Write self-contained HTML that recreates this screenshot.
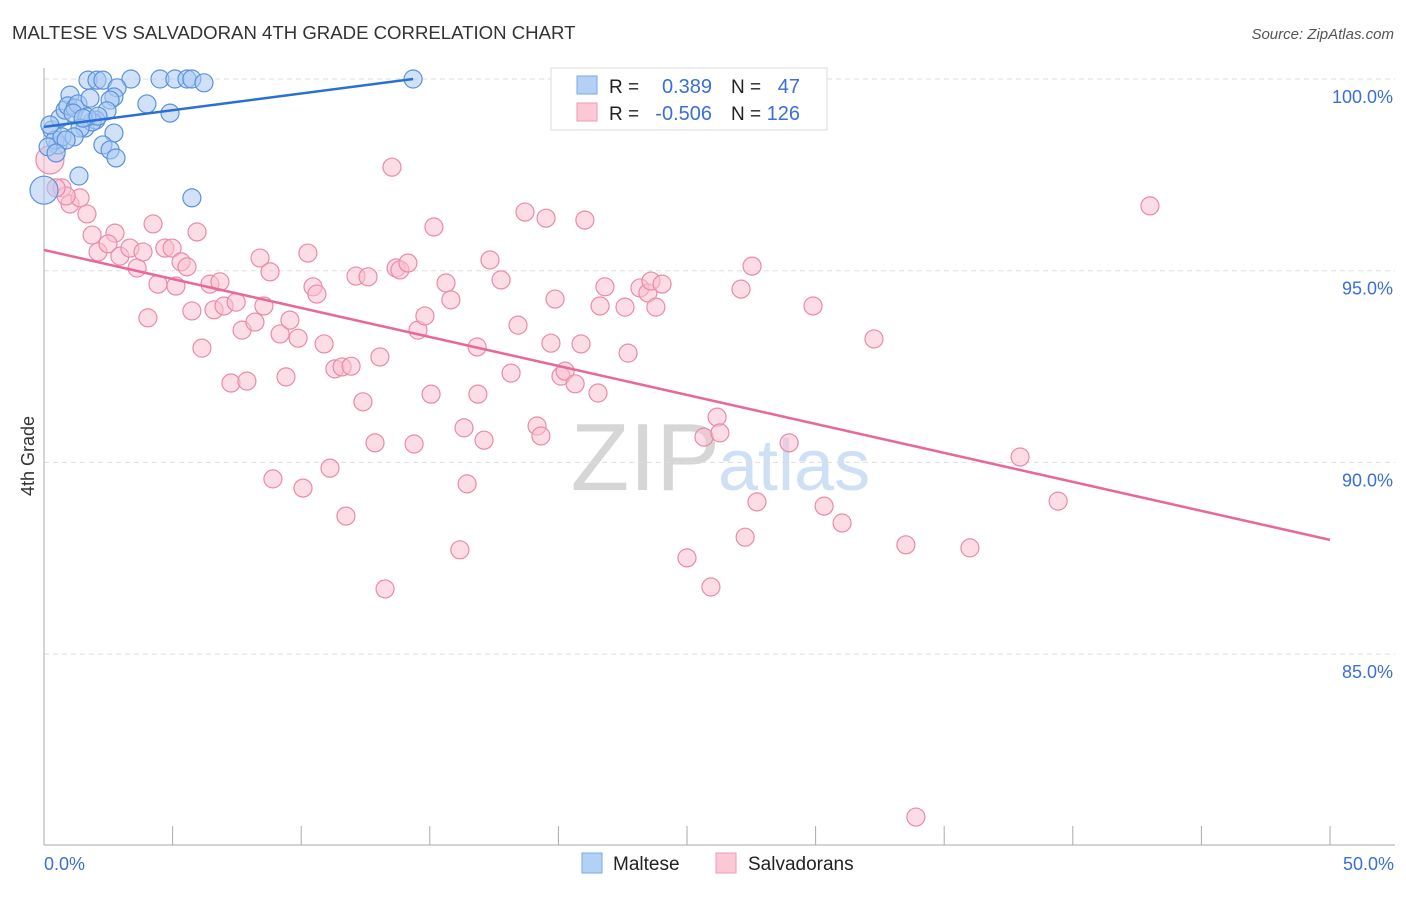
<!DOCTYPE html>
<html><head><meta charset="utf-8"><style>
body{margin:0;background:#fff;font-family:"Liberation Sans",sans-serif}
svg text{font-family:"Liberation Sans",sans-serif}
</style></head><body>
<svg id="c" width="1406" height="892">
<text x="12" y="39" font-size="18.6" fill="#333">MALTESE VS SALVADORAN 4TH GRADE CORRELATION CHART</text>
<text x="1394" y="39" font-size="15" fill="#555" font-style="italic" text-anchor="end">Source: ZipAtlas.com</text>
<text x="720" y="490" font-size="96" fill="#d6d6d6" text-anchor="end" font-family="Liberation Serif">ZIP</text>
<text x="718" y="490" font-size="72" fill="#cfe0f4">atlas</text>
<g id="grid"></g><g id="pts"></g><g id="lines"></g>
<text x="34" y="456" font-size="18" fill="#333" text-anchor="middle" transform="rotate(-90 34 456)">4th Grade</text>
<g>
<rect x="551" y="68" width="276" height="62" fill="#fff" stroke="#ddd"/>
<rect x="577" y="76" width="20" height="18" fill="#b3d0f5" stroke="#7aaae6"/>
<rect x="577" y="103" width="20" height="18" fill="#fbc8d6" stroke="#ef9ab5"/>
<text x="609" y="93" font-size="19" fill="#222">R =</text><text x="712" y="93" font-size="20" fill="#3a6fd8" text-anchor="end">0.389</text>
<text x="731" y="93" font-size="19" fill="#222">N =</text><text x="800" y="93" font-size="20" fill="#3a6fd8" text-anchor="end">47</text>
<text x="609" y="120" font-size="19" fill="#222">R =</text><text x="712" y="120" font-size="20" fill="#3a6fd8" text-anchor="end">-0.506</text>
<text x="731" y="120" font-size="19" fill="#222">N =</text><text x="800" y="120" font-size="20" fill="#3a6fd8" text-anchor="end">126</text>
</g>
<g>
<rect x="582" y="853" width="20" height="20" fill="#b3d0f5" stroke="#7aaae6"/>
<text x="613" y="870" font-size="19" fill="#222">Maltese</text>
<rect x="716" y="853" width="20" height="20" fill="#fbc8d6" stroke="#ef9ab5"/>
<text x="748" y="870" font-size="19" fill="#222">Salvadorans</text>
</g>
</svg>
<script>
const yTicks=[100,95,90,85];
const yTickLabels=["100.0%","95.0%","90.0%","85.0%"];
const xTicks=[0,5,10,15,20,25,30,35,40,45,50];
const blueX=[0,0.54,0.31,0.62,0.82,1.01,0.93,1.21,1.32,1.13,1.59,1.79,1.71,2.06,2.29,3.38,4.51,5.09,5.56,5.75,6.22,2.84,2.72,2.57,4.0,4.9,2.45,2.02,1.87,1.67,1.40,2.72,2.29,2.57,2.80,1.36,5.75,14.35,0.43,0.16,0.70,0.23,1.52,1.17,2.10,0.86,0.47];
const blueY=[97.1,98.28,98.67,98.98,99.19,99.58,99.30,99.24,99.35,99.11,98.72,99.50,99.97,99.97,99.97,100,100,100,100,100,99.9,99.77,99.53,99.45,99.35,99.11,99.17,98.93,98.88,99.01,98.72,98.59,98.28,98.15,97.94,97.47,96.9,100,98.41,98.23,98.49,98.80,98.98,98.49,99.03,98.41,98.07];
const pinkX=[0.23,0.70,1.01,1.40,1.67,1.87,2.76,2.10,2.49,2.95,3.34,3.62,3.85,4.04,4.24,4.43,4.70,4.98,5.13,5.33,5.56,5.75,5.95,6.14,6.45,6.61,6.84,7.0,7.27,7.47,7.70,7.89,8.20,8.40,8.55,8.79,8.90,9.18,9.41,9.56,9.88,10.07,10.26,10.46,10.61,10.89,11.12,11.31,11.59,11.74,11.94,12.13,12.40,12.60,12.87,13.06,13.26,13.53,13.69,13.84,14.15,14.39,14.54,14.81,15.05,15.16,15.63,15.82,16.17,16.33,16.45,16.84,16.87,17.11,17.34,17.77,18.16,18.43,18.70,19.17,19.32,19.52,19.71,19.87,20.10,20.26,20.65,20.88,21.03,21.54,21.62,21.81,22.59,22.71,23.17,23.48,23.60,23.79,24.03,25.0,25.66,25.93,26.17,26.28,27.26,27.53,27.72,27.10,28.97,29.90,30.33,31.03,32.27,33.51,36.0,37.95,39.43,43.0,33.90,0.86,0.47];
const pinkY=[97.89,97.16,96.74,96.90,96.48,95.93,95.98,95.49,95.70,95.38,95.59,95.07,95.49,93.77,96.22,94.65,95.59,95.59,94.60,95.23,95.10,93.95,96.01,92.98,94.65,93.98,94.71,94.08,92.07,94.18,93.45,92.12,93.66,95.33,94.08,94.97,89.57,93.35,92.23,93.71,93.24,89.33,95.46,94.58,94.39,93.09,89.85,92.44,92.49,88.60,92.51,94.86,91.58,94.84,90.51,92.75,86.70,97.70,95.07,95.02,95.20,90.48,93.45,93.82,91.78,96.14,94.68,94.24,87.72,90.90,89.44,93.01,91.78,90.58,95.28,94.76,92.33,93.58,96.53,90.95,90.69,96.37,93.11,94.26,92.25,92.38,92.05,93.09,96.32,91.81,94.08,94.58,94.05,92.85,94.55,94.42,94.73,94.05,94.65,87.51,90.66,86.75,91.18,90.77,88.05,95.12,88.97,94.52,90.51,94.08,88.86,88.42,93.22,87.85,87.77,90.14,88.99,96.69,80.75,96.95,97.16];
const blueTrend=[[0,98.75],[14.35,100]];
const pinkTrend=[[0,95.54],[50,87.98]];
const NS="http://www.w3.org/2000/svg";
const sx=v=>44+v*25.72, sy=v=>79+(100-v)*38.34;
function mk(t,a,p){const e=document.createElementNS(NS,t);for(const k in a)e.setAttribute(k,a[k]);p.appendChild(e);return e;}
const g=document.getElementById('grid'),pts=document.getElementById('pts'),ln=document.getElementById('lines');
yTicks.forEach((v,i)=>{const l=mk('line',{x1:44,x2:1395,y1:sy(v),y2:sy(v),stroke:'#ddd','stroke-dasharray':'5,4'},g);


const t=mk('text',{x:1393,y:sy(v)+24,'font-size':18,fill:'#3a6fd8','text-anchor':'end'},g);t.textContent=yTickLabels[i];

});
const ax=mk('line',{x1:44,x2:44,y1:68,y2:845,stroke:'#aaa'},g);


const bx=mk('line',{x1:44,x2:1395,y1:845,y2:845,stroke:'#aaa'},g);


xTicks.forEach(v=>{const l=mk('line',{x1:sx(v),x2:sx(v),y1:826,y2:845,stroke:'#aaa'},g);

});
const xl0=mk('text',{x:44,y:870,'font-size':18,fill:'#3a6fd8'},g);xl0.textContent=xTicks[0].toFixed(1)+'%';


const xl1=mk('text',{x:1394,y:870,'font-size':18,fill:'#3a6fd8','text-anchor':'end'},g);xl1.textContent=xTicks[xTicks.length-1].toFixed(1)+'%';


function dots(X,Y,fill,stroke,name){X.forEach((x,i)=>{const r=(x<0.3&&i<3)?14:9;const c=mk('circle',{cx:sx(x),cy:sy(Y[i]),r:r,fill:fill,'fill-opacity':0.55,stroke:stroke,'stroke-width':1.2},pts);

});}
dots(pinkX,pinkY,'#f9bfd0','#ea8aaa','salvadoran-point');
dots(blueX,blueY,'#a9c9f2','#5a92dc','maltese-point');
function tl(T,col,name){const l=mk('line',{x1:sx(T[0][0]),y1:sy(T[0][1]),x2:sx(T[1][0]),y2:sy(T[1][1]),stroke:col,'stroke-width':2.5},ln);

}
tl(blueTrend,'#2a6fd6','maltese-trendline');
tl(pinkTrend,'#e8689a','salvadoran-trendline');
</script>
</body></html>
